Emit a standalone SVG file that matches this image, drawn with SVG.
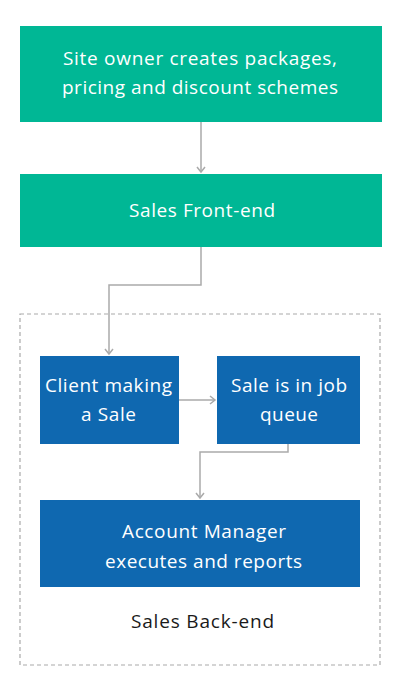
<svg xmlns="http://www.w3.org/2000/svg" width="400" height="700" viewBox="0 0 400 700">
<defs>
<style>
.teal{fill:#00b795;}
.blue{fill:#0f68b0;}
.t{font-family:"Open Sans","Liberation Sans",sans-serif;font-size:19px;fill:#ffffff;text-anchor:middle;}
.lbl{font-family:"Open Sans","Liberation Sans",sans-serif;font-size:19px;fill:#1a1a1a;text-anchor:middle;}
.c{fill:none;stroke:#aaaaaa;stroke-width:1.5;}
</style>
<marker id="arr" markerWidth="10" markerHeight="10" refX="7" refY="5" orient="auto" markerUnits="userSpaceOnUse">
<path d="M2,1 L7,5 L2,9" fill="none" stroke="#aaaaaa" stroke-width="1.5"/>
</marker>
</defs>
<rect width="400" height="700" fill="#ffffff"/>
<g id="backend">
<rect x="20" y="314" width="360" height="351" fill="none" stroke="#aaaaaa" stroke-width="1.2" stroke-dasharray="4,3"/>
<text class="lbl" x="202.5" y="628" textLength="143" lengthAdjust="spacing">Sales Back-end</text>
</g>
<g id="connectors">
<path class="c" d="M201,122 V172" marker-end="url(#arr)"/>
<path class="c" d="M201,247 V285 H109 V354" marker-end="url(#arr)"/>
<path class="c" d="M179,400 H215" marker-end="url(#arr)"/>
<path class="c" d="M288,444 V452 H200 V498" marker-end="url(#arr)"/>
</g>
<g id="owner">
<rect class="teal" x="20" y="26" width="362" height="96"/>
<text class="t" x="200" y="65" textLength="274" lengthAdjust="spacing">Site owner creates packages,</text>
<text class="t" x="200" y="94" textLength="276" lengthAdjust="spacing">pricing and discount schemes</text>
</g>
<g id="frontend">
<rect class="teal" x="20" y="174" width="362" height="73"/>
<text class="t" x="202" y="217" textLength="146" lengthAdjust="spacing">Sales Front-end</text>
</g>
<g id="client">
<rect class="blue" x="40" y="356" width="139" height="88"/>
<text class="t" x="108.5" y="392" textLength="127" lengthAdjust="spacing">Client making</text>
<text class="t" x="108.5" y="421" textLength="55" lengthAdjust="spacing">a Sale</text>
</g>
<g id="queue">
<rect class="blue" x="217" y="356" width="143" height="88"/>
<text class="t" x="289" y="392" textLength="116" lengthAdjust="spacing">Sale is in job</text>
<text class="t" x="289" y="421" textLength="58" lengthAdjust="spacing">queue</text>
</g>
<g id="manager">
<rect class="blue" x="40" y="500" width="320" height="87"/>
<text class="t" x="204" y="538" textLength="164" lengthAdjust="spacing">Account Manager</text>
<text class="t" x="203.5" y="568" textLength="197" lengthAdjust="spacing">executes and reports</text>
</g>
</svg>
